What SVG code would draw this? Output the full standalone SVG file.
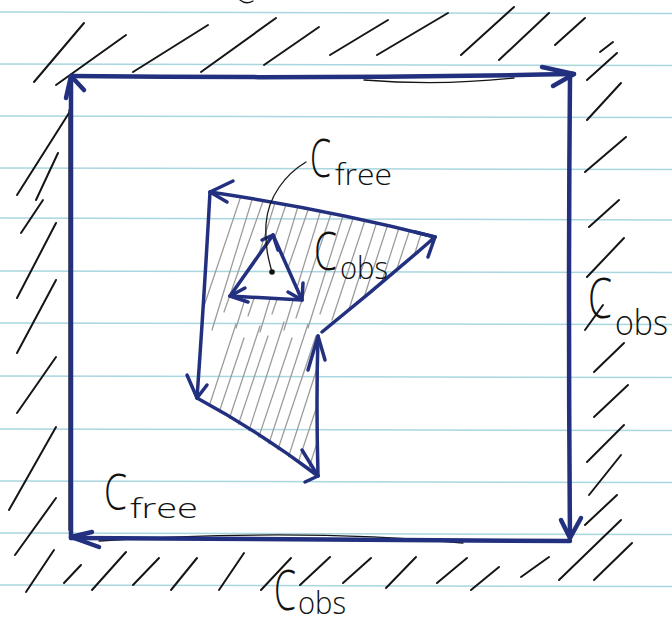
<svg xmlns="http://www.w3.org/2000/svg" width="672" height="625" viewBox="0 0 672 625">
<style>
.rule{stroke:#a9d6df;stroke-width:1.5;fill:none}
.pen{stroke:#22307f;stroke-width:4.5;fill:none;stroke-linecap:round;stroke-linejoin:round}
.pen2{stroke:#22307f;stroke-width:3.5;fill:none;stroke-linecap:round;stroke-linejoin:round}
.hatch{stroke:#151515;stroke-width:2;fill:none;stroke-linecap:round}
.thin{stroke:#151515;stroke-width:1.3;fill:none;stroke-linecap:round}
.gray{stroke:#9c9c9c;stroke-width:1.3;fill:none;stroke-linecap:round}
.lbl{font-family:"Open Sans","Liberation Sans",Arial,sans-serif;font-weight:300;fill:#111}
</style>
<defs>
<clipPath id="obsclip">
<path clip-rule="evenodd" d="M210,192 L197,398 L318,476 L318,336 L322,332 L435,237 Q330,210 210,192 Z M273,235 L230,296 L302,300 Z"/>
</clipPath>
</defs>
<rect width="672" height="625" fill="#ffffff"/>
<g id="paper-lines">
<line class="rule" x1="0" y1="12" x2="672" y2="13.5"/>
<line class="rule" x1="0" y1="64" x2="672" y2="65.5"/>
<line class="rule" x1="0" y1="116" x2="672" y2="117.5"/>
<line class="rule" x1="0" y1="168" x2="672" y2="169.5"/>
<line class="rule" x1="0" y1="218" x2="672" y2="220"/>
<line class="rule" x1="0" y1="271" x2="672" y2="272.5"/>
<line class="rule" x1="0" y1="323" x2="672" y2="324.5"/>
<line class="rule" x1="0" y1="376" x2="672" y2="377.5"/>
<line class="rule" x1="0" y1="429" x2="672" y2="430.5"/>
<line class="rule" x1="0" y1="481" x2="672" y2="482.5"/>
<line class="rule" x1="0" y1="533" x2="672" y2="534.5"/>
<line class="rule" x1="0" y1="585" x2="672" y2="586.5"/>
</g>
<g id="top-stub">
<path class="thin" d="M240,0 Q246,5 253,1" stroke-width="2"/>
</g>
<g id="outer-hatching">
<line class="hatch" x1="34" y1="82" x2="84" y2="23"/>
<line class="hatch" x1="56" y1="85" x2="126" y2="35"/>
<line class="hatch" x1="133" y1="72" x2="208" y2="25"/>
<line class="hatch" x1="201" y1="72" x2="276" y2="18"/>
<line class="hatch" x1="264" y1="65" x2="319" y2="27"/>
<line class="hatch" x1="330" y1="55" x2="388" y2="20"/>
<line class="hatch" x1="377" y1="55" x2="448" y2="13"/>
<line class="hatch" x1="461" y1="55" x2="514" y2="7"/>
<line class="hatch" x1="499" y1="60" x2="549" y2="13"/>
<line class="hatch" x1="555" y1="45" x2="585" y2="18"/>
<line class="hatch" x1="600" y1="52" x2="613" y2="42"/>
<line class="hatch" x1="587" y1="80" x2="617" y2="53"/>
<line class="hatch" x1="587" y1="120" x2="621" y2="83"/>
<line class="hatch" x1="585" y1="172" x2="626" y2="137"/>
<line class="hatch" x1="589" y1="227" x2="619" y2="200"/>
<line class="hatch" x1="587" y1="277" x2="624" y2="238"/>
<line class="hatch" x1="585" y1="330" x2="603" y2="305"/>
<line class="hatch" x1="594" y1="372" x2="624" y2="343"/>
<line class="hatch" x1="594" y1="417" x2="628" y2="385"/>
<line class="hatch" x1="587" y1="462" x2="624" y2="425"/>
<line class="hatch" x1="589" y1="495" x2="621" y2="455"/>
<line class="hatch" x1="585" y1="525" x2="617" y2="495"/>
<line class="hatch" x1="559" y1="580" x2="621" y2="520"/>
<line class="hatch" x1="594" y1="580" x2="632" y2="543"/>
<line class="hatch" x1="17" y1="195" x2="69" y2="113"/>
<line class="hatch" x1="36" y1="200" x2="58" y2="153"/>
<line class="hatch" x1="21" y1="233" x2="43" y2="200"/>
<line class="hatch" x1="17" y1="298" x2="56" y2="223"/>
<line class="hatch" x1="17" y1="353" x2="56" y2="280"/>
<line class="hatch" x1="17" y1="413" x2="56" y2="357"/>
<line class="hatch" x1="9" y1="510" x2="56" y2="427"/>
<line class="hatch" x1="15" y1="555" x2="56" y2="498"/>
<line class="hatch" x1="26" y1="592" x2="54" y2="550"/>
<line class="hatch" x1="64" y1="583" x2="81" y2="565"/>
<line class="hatch" x1="92" y1="590" x2="126" y2="552"/>
<line class="hatch" x1="133" y1="585" x2="159" y2="558"/>
<line class="hatch" x1="171" y1="590" x2="197" y2="558"/>
<line class="hatch" x1="219" y1="590" x2="244" y2="553"/>
<line class="hatch" x1="261" y1="590" x2="291" y2="558"/>
<line class="hatch" x1="300" y1="585" x2="330" y2="557"/>
<line class="hatch" x1="343" y1="583" x2="371" y2="558"/>
<line class="hatch" x1="386" y1="588" x2="416" y2="557"/>
<line class="hatch" x1="437" y1="583" x2="467" y2="558"/>
<line class="hatch" x1="471" y1="590" x2="499" y2="567"/>
<line class="hatch" x1="521" y1="577" x2="549" y2="557"/>
</g>
<g id="outer-boundary">
<path class="thin" d="M364,80 Q440,86 514,78"/>
<path class="thin" d="M69,110 L69,530"/>
<path class="thin" d="M99,541 Q300,528 463,543"/>
<path class="pen" d="M71,538 Q70,300 71,76"/>
<path class="pen" d="M66,98 L71,76 L84,90"/>
<path class="pen" d="M71,76 Q320,79 574,74"/>
<path class="pen" d="M542,67 L574,74 L553,86"/>
<path class="pen" d="M570,76 Q568,300 570,538"/>
<path class="pen" d="M561,520 L570,538 L581,518"/>
<path class="pen" d="M570,541 Q320,540 71,538"/>
<path class="pen" d="M92,532 L71,537 L99,547"/>
</g>
<g id="obstacle-hatching" clip-path="url(#obsclip)">
<line class="gray" x1="200" y1="318" x2="243" y2="190"/>
<line class="gray" x1="212" y1="330" x2="255" y2="190"/>
<line class="gray" x1="224" y1="312" x2="267" y2="190"/>
<line class="gray" x1="236" y1="328" x2="279" y2="190"/>
<line class="gray" x1="248" y1="316" x2="291" y2="190"/>
<line class="gray" x1="260" y1="332" x2="303" y2="190"/>
<line class="gray" x1="272" y1="314" x2="315" y2="190"/>
<line class="gray" x1="284" y1="330" x2="327" y2="190"/>
<line class="gray" x1="296" y1="318" x2="339" y2="190"/>
<line class="gray" x1="308" y1="328" x2="351" y2="190"/>
<line class="gray" x1="320" y1="314" x2="363" y2="190"/>
<line class="gray" x1="332" y1="320" x2="375" y2="190"/>
<line class="gray" x1="344" y1="325" x2="387" y2="190"/>
<line class="gray" x1="356" y1="322" x2="399" y2="190"/>
<line class="gray" x1="368" y1="325" x2="411" y2="190"/>
<line class="gray" x1="380" y1="320" x2="423" y2="190"/>
<line class="gray" x1="392" y1="325" x2="435" y2="190"/>
<line class="gray" x1="404" y1="322" x2="447" y2="190"/>
<line class="gray" x1="185" y1="480" x2="236" y2="324"/>
<line class="gray" x1="197" y1="478" x2="244" y2="338"/>
<line class="gray" x1="209" y1="480" x2="260" y2="326"/>
<line class="gray" x1="221" y1="476" x2="268" y2="336"/>
<line class="gray" x1="233" y1="480" x2="284" y2="322"/>
<line class="gray" x1="245" y1="478" x2="292" y2="338"/>
<line class="gray" x1="257" y1="480" x2="308" y2="324"/>
<line class="gray" x1="269" y1="476" x2="316" y2="336"/>
<line class="gray" x1="281" y1="480" x2="332" y2="322"/>
<line class="gray" x1="293" y1="478" x2="341" y2="334"/>
<line class="gray" x1="305" y1="480" x2="353" y2="332"/>
</g>
<g id="obstacle">
<path class="pen2" d="M210,192 Q204,300 197,398"/>
<path class="pen2" d="M187,375 L197,398 L207,385"/>
<path class="pen2" d="M197,398 Q260,432 318,476"/>
<path class="pen2" d="M302,450 L318,476 L305,482"/>
<path class="pen2" d="M318,476 Q316,400 318,336"/>
<path class="pen2" d="M308,370 L318,336 L325,360"/>
<path class="pen2" d="M322,332 Q380,285 435,237"/>
<path class="pen2" d="M415,232 L435,237 L428,257"/>
<path class="pen2" d="M435,237 Q330,210 210,192"/>
<path class="pen2" d="M233,181 L210,192 L227,202"/>
</g>
<g id="free-hole">
<path class="pen2" d="M230,296 L273,235"/>
<path class="pen2" d="M262,240 L273,235 L278,250"/>
<path class="pen2" d="M273,235 L302,300"/>
<path class="pen2" d="M288,292 L302,300 L303,283"/>
<path class="pen2" d="M302,300 L230,296"/>
<path class="pen2" d="M248,302 L230,296 L245,288"/>
</g>
<g id="leader">
<path class="thin" stroke-width="2" d="M306,162 C286,174 268,196 266,224 C265,246 268,258 272,272"/>
<circle cx="272" cy="272" r="2.8" fill="#111"/>
</g>
<g id="label-cfree-top">
<text class="lbl" x="310" y="177" font-size="54" textLength="21" lengthAdjust="spacingAndGlyphs">C</text>
<text class="lbl" x="335" y="185" font-size="30" textLength="57" lengthAdjust="spacingAndGlyphs">free</text>
</g>
<g id="label-cobs-inner">
<text class="lbl" x="314" y="270" font-size="54" textLength="23" lengthAdjust="spacingAndGlyphs">C</text>
<text class="lbl" x="340" y="279" font-size="32" textLength="48" lengthAdjust="spacingAndGlyphs">obs</text>
</g>
<g id="label-cobs-right">
<text class="lbl" x="588" y="318" font-size="56" textLength="24" lengthAdjust="spacingAndGlyphs">C</text>
<text class="lbl" x="615" y="335" font-size="34" textLength="53" lengthAdjust="spacingAndGlyphs">obs</text>
</g>
<g id="label-cfree-bottom">
<text class="lbl" x="104" y="510" font-size="50" textLength="23" lengthAdjust="spacingAndGlyphs">C</text>
<text class="lbl" x="130" y="518" font-size="28" textLength="68" lengthAdjust="spacingAndGlyphs">free</text>
</g>
<g id="label-cobs-bottom">
<text class="lbl" x="274" y="610" font-size="56" textLength="22" lengthAdjust="spacingAndGlyphs">C</text>
<text class="lbl" x="298" y="614" font-size="32" textLength="48" lengthAdjust="spacingAndGlyphs">obs</text>
</g>
</svg>
